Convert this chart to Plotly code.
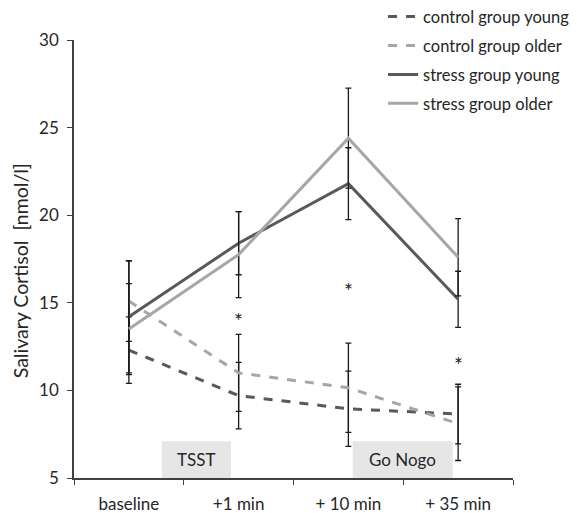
import plotly.graph_objects as go

categories = ["baseline", "+1 min", "+ 10 min", "+ 35 min"]
series_names = ["control group young", "control group older", "stress group young", "stress group older"]
control_young = [12.3, 9.7, 8.95, 8.65]
control_young_err = [1.9, 1.9, 2.15, 1.7]
control_older = [15.1, 11.0, 10.15, 8.1]
control_older_err = [2.3, 2.2, 2.55, 2.1]
stress_young = [14.2, 18.4, 21.8, 15.2]
stress_young_err = [3.2, 1.8, 2.05, 1.6]
stress_older = [13.5, 17.75, 24.4, 17.6]
stress_older_err = [2.6, 2.45, 2.85, 2.2]
asterisk_x = ["+1 min", "+ 10 min", "+ 35 min"]
asterisk_y = [14.0, 15.7, 11.5]
phase_labels = ["TSST", "Go Nogo"]
phase_x0 = [0.30, 2.04]
phase_x1 = [0.93, 2.95]
phase_top = 7.1
y_title = "Salivary Cortisol  [nmol/l]"

dark = "#595959"
light = "#a6a6a6"
font_family = "Lato, 'Open Sans', sans-serif"
text_color = "#262626"

fig = go.Figure()
specs = [
    (control_young, control_young_err, dark, "dash"),
    (control_older, control_older_err, light, "dash"),
    (stress_young, stress_young_err, dark, "solid"),
    (stress_older, stress_older_err, light, "solid"),
]
for i, (vals, errs, col, dash) in enumerate(specs):
    fig.add_trace(go.Scatter(
        x=categories, y=vals, mode="lines", name=series_names[i],
        legendgroup=f"g{i}",
        line=dict(color=col, width=3, dash=dash),
        error_y=dict(type="data", array=errs, visible=True, color="#1a1a1a",
                     thickness=1.3, width=3),
    ))

for xv, yv in zip(asterisk_x, asterisk_y):
    fig.add_annotation(x=xv, y=yv, text="*", showarrow=False,
                       font=dict(size=21, color=text_color, family=font_family))

for lab, x0, x1 in zip(phase_labels, phase_x0, phase_x1):
    fig.add_shape(type="rect", xref="x", yref="y", x0=x0, x1=x1, y0=5, y1=phase_top,
                  fillcolor="#e6e6e6", line=dict(width=0), layer="below")
    fig.add_annotation(x=(x0 + x1) / 2, y=(5 + phase_top) / 2, xref="x", yref="y",
                       text=lab, showarrow=False,
                       font=dict(size=17, color=text_color, family=font_family))

fig.add_annotation(x=-0.122, y=0.473, xref="paper", yref="paper", text=y_title,
                   textangle=-90, showarrow=False, xanchor="center", yanchor="middle",
                   font=dict(size=19.5, color=text_color, family=font_family))

fig.update_layout(
    width=580, height=513,
    margin=dict(l=66, r=75, t=32, b=43, autoexpand=False),
    paper_bgcolor="white", plot_bgcolor="white",
    font=dict(family=font_family, size=17, color=text_color),
    showlegend=True,
    legend=dict(x=0.704, xanchor="left", y=1.093, yanchor="top",
                font=dict(size=16.5, color=text_color), tracegroupgap=4.5,
                itemwidth=30, bgcolor="rgba(0,0,0,0)"),
    xaxis=dict(type="category", tickson="boundaries", ticks="outside", ticklen=5,
               showline=True, linecolor="#404040", linewidth=1.5, tickcolor="#404040",
               showgrid=False, range=[-0.5, 3.5], tickfont=dict(size=17),
               ticklabelstandoff=10),
    yaxis=dict(range=[5, 30], tickvals=[5, 10, 15, 20, 25, 30], ticks="outside", ticklen=5,
               showline=True, linecolor="#404040", linewidth=1.5, tickcolor="#404040",
               showgrid=False, zeroline=False, tickfont=dict(size=17),
               ticklabelstandoff=5),
)

fig.write_html("out.html")
